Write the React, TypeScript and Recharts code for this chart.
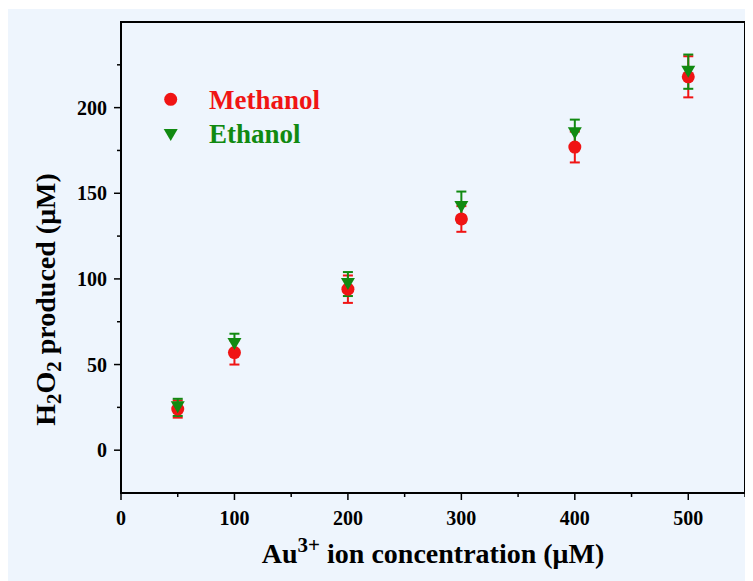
import React from 'react';
import { ScatterChart, Scatter, XAxis, YAxis, ErrorBar, ReferenceArea, Legend, Label } from 'recharts';

const concentrations = [50, 100, 200, 300, 400, 500];
const methanolValues = [24, 57, 94, 135, 177, 218];
const methanolErrors = [5, 7, 8, 7.5, 9, 12];
const ethanolValues = [25, 62, 97, 142, 185, 221];
const ethanolErrors = [5, 6, 7, 9, 8, 10];

const xTicks = [0, 50, 100, 150, 200, 250, 300, 350, 400, 450, 500, 550];
const yTicks = [0, 25, 50, 75, 100, 125, 150, 175, 200, 225];
const xLabeled = [0, 100, 200, 300, 400, 500];
const yLabeled = [0, 50, 100, 150, 200];

const seriesNames = ['Methanol', 'Ethanol'];
const RED = '#f01414';
const GREEN = '#118a11';
const BG = '#eef5fd';
const FONT = "'Liberation Serif', 'Times New Roman', serif";

const methanolData = concentrations.map((x, i) => ({ x, y: methanolValues[i], err: methanolErrors[i] }));
const ethanolData = concentrations.map((x, i) => ({ x, y: ethanolValues[i], err: ethanolErrors[i] }));

const XTick = (props: any) => {
  const { x, y, payload } = props;
  const major = xLabeled.includes(payload.value);
  return (
    <g>
      <line x1={x} x2={x} y1={y} y2={y + (major ? 7 : 4)} stroke="#000" strokeWidth={1.5} />
      {major && (
        <text x={x} y={y + 32} textAnchor="middle" fontFamily={FONT} fontWeight="bold" fontSize={20} fill="#000">
          {payload.value}
        </text>
      )}
    </g>
  );
};

const YTick = (props: any) => {
  const { x, y, payload } = props;
  const major = yLabeled.includes(payload.value);
  return (
    <g>
      <line x1={x} x2={x - (major ? 7 : 4)} y1={y} y2={y} stroke="#000" strokeWidth={1.5} />
      {major && (
        <text x={x - 14} y={y + 7} textAnchor="end" fontFamily={FONT} fontWeight="bold" fontSize={20} fill="#000">
          {payload.value}
        </text>
      )}
    </g>
  );
};

const Circle = (props: any) => {
  const { cx, cy } = props;
  return <circle cx={cx} cy={cy} r={6.5} fill={RED} />;
};

const DownTriangle = (props: any) => {
  const { cx, cy } = props;
  return <polygon points={`${cx - 7},${cy - 6} ${cx + 7},${cy - 6} ${cx},${cy + 6}`} fill={GREEN} />;
};

const XTitle = (props: any) => {
  const { viewBox } = props;
  const cx = viewBox.x + viewBox.width / 2;
  const y = viewBox.y + 70;
  return (
    <text x={cx} y={y} textAnchor="middle" fontFamily={FONT} fontWeight="bold" fontSize={28} fill="#000">
      Au<tspan dy={-11} fontSize={21}>3+</tspan><tspan dy={11}> ion concentration (μM)</tspan>
    </text>
  );
};

const YTitle = (props: any) => {
  const { viewBox } = props;
  const x = viewBox.x - 6;
  const cy = viewBox.y + viewBox.height / 2 + 42;
  return (
    <text x={x} y={cy} transform={`rotate(-90, ${x}, ${cy})`} textAnchor="middle" fontFamily={FONT} fontWeight="bold" fontSize={28} fill="#000">
      H<tspan dy={6} fontSize={21}>2</tspan><tspan dy={-6}>O</tspan><tspan dy={6} fontSize={21}>2</tspan><tspan dy={-6}> produced (μM)</tspan>
    </text>
  );
};

const LegendContent = () => (
  <svg width={220} height={70} style={{ display: 'block' }}>
    <circle cx={12.7} cy={15.3} r={6.5} fill={RED} />
    <text x={51} y={25} fontFamily={FONT} fontWeight="bold" fontSize={27} fill={RED}>{seriesNames[0]}</text>
    <polygon points="5.7,45 19.7,45 12.7,57" fill={GREEN} />
    <text x={51} y={59} fontFamily={FONT} fontWeight="bold" fontSize={27} fill={GREEN}>{seriesNames[1]}</text>
  </svg>
);

export default function App() {
  return (
    <div style={{ marginTop: 1, width: 745, height: 572, background: BG }}>
      <ScatterChart width={745} height={572} margin={{ top: 13, right: 8, bottom: 28, left: 53 }}>
        <XAxis
          type="number"
          dataKey="x"
          domain={[0, 550]}
          ticks={xTicks}
          interval={0}
          tick={<XTick />}
          tickSize={0}
          tickMargin={0}
          tickLine={false}
          axisLine={{ stroke: '#000', strokeWidth: 2 }}
          height={60}
          allowDataOverflow
        >
          <Label content={<XTitle />} />
        </XAxis>
        <YAxis
          type="number"
          dataKey="y"
          domain={[-25, 250]}
          ticks={yTicks}
          interval={0}
          tick={<YTick />}
          tickSize={0}
          tickMargin={0}
          tickLine={false}
          axisLine={{ stroke: '#000', strokeWidth: 2 }}
          width={60}
          allowDataOverflow
        >
          <Label content={<YTitle />} />
        </YAxis>
        <ReferenceArea x1={0} x2={550} y1={-25} y2={250} fill="none" stroke="#000" strokeWidth={2} ifOverflow="visible" />
        <Scatter name={seriesNames[0]} data={methanolData} fill={RED} shape={<Circle />} isAnimationActive={false}>
          <ErrorBar dataKey="err" direction="y" width={5} stroke={RED} strokeWidth={2} isAnimationActive={false} />
        </Scatter>
        <Scatter name={seriesNames[1]} data={ethanolData} fill={GREEN} shape={<DownTriangle />} isAnimationActive={false}>
          <ErrorBar dataKey="err" direction="y" width={5} stroke={GREEN} strokeWidth={2} isAnimationActive={false} />
        </Scatter>
        <Legend
          layout="vertical"
          align="center"
          verticalAlign="middle"
          content={<LegendContent />}
          wrapperStyle={{ position: 'absolute', left: 150, top: 75, width: 220, height: 70 }}
        />
      </ScatterChart>
    </div>
  );
}
